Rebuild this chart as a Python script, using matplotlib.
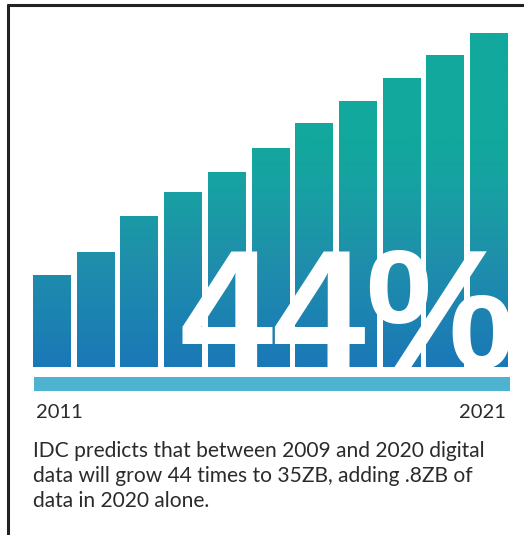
import matplotlib.pyplot as plt
from matplotlib.colors import LinearSegmentedColormap
from matplotlib.lines import Line2D
import numpy as np

# bar heights (pixels above the baseline)
years = list(range(2011, 2022))
heights = [92, 115, 151, 175, 195, 219, 244, 266, 289, 312, 334]

first_label = "2011"
last_label = "2021"
big_label = "44%"
caption_lines = [
    "IDC predicts that between 2009 and 2020 digital",
    "data will grow 44 times to 35ZB, adding .8ZB of",
    "data in 2020 alone.",
]

W, H = 524, 535
fig = plt.figure(figsize=(W / 100, H / 100), dpi=100)

# one axes over the whole figure, 1 unit = 1 px vertically
ax = fig.add_axes([0, 0, 1, 1])
pitch = 43.7
x0 = 51.75
ax.axis("off")

# gradient: teal on top, blue at the bottom
cmap = LinearSegmentedColormap.from_list(
    "idc",
    [(0.0, "#1a78b7"), (0.32, "#1f8fab"), (0.55, "#17a2a2"),
     (0.68, "#12a89d"), (1.0, "#12a89d")],
)
top = max(heights)
grad = np.linspace(0, 1, 256).reshape(-1, 1)

xs = np.arange(len(years))
bars = ax.bar(xs, heights, width=0.858, color="none", edgecolor="none")
for bar in bars:
    im = ax.imshow(grad, cmap=cmap, origin="lower", aspect="auto",
                   extent=(-1, len(years), 0, top), zorder=2)
    im.set_clip_path(bar)
ax.set_xlim((0 - x0) / pitch, (W - x0) / pitch)
ax.set_ylim(-(H - 367), 367)

# big white figure over the bars
ax.text(2.93, -1, big_label, color="white", fontsize=121,
        family="Liberation Sans", fontweight="bold",
        ha="left", va="baseline", zorder=3)

# light blue baseline strip
ax.axhspan(-24, -10, xmin=34 / W, xmax=510 / W, color="#4db3d1",
           lw=0, zorder=2)

# year labels
fig.text(36 / W, (H - 418) / H, first_label, fontsize=14.5,
         family="Lato", color="#2b2b2b", ha="left", va="baseline")
fig.text(506 / W, (H - 418) / H, last_label, fontsize=14.5,
         family="Lato", color="#2b2b2b", ha="right", va="baseline")

# caption, one line at a time (25 px apart)
for i, line in enumerate(caption_lines):
    fig.text(33 / W, (H - 457 - 25 * i) / H, line, fontsize=15.1,
             family="Lato", color="#2b2b2b", ha="left", va="baseline")

# frame: top and left rules
fig.add_artist(Line2D([7 / W, 1], [(H - 5) / H] * 2, color="#222222",
                      lw=2.2, solid_capstyle="butt"))
fig.add_artist(Line2D([8 / W] * 2, [0, (H - 4) / H], color="#222222",
                      lw=2.2, solid_capstyle="butt"))

fig.savefig("out.png", dpi=100)
